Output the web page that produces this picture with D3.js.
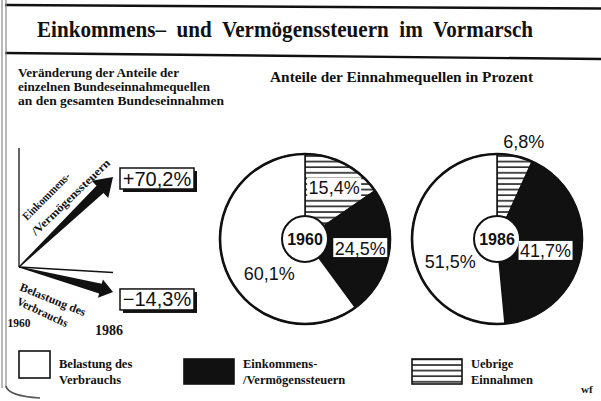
<!DOCTYPE html>
<html>
<head>
<meta charset="utf-8">
<script src="https://cdn.jsdelivr.net/npm/d3@7"></script>
<style>
  body { margin: 0; background: #fff; }
  svg { display: block; }
  .serif { font-family: "Liberation Serif", "DejaVu Serif", serif; font-weight: bold; fill: #111; }
  .num { font-family: "Liberation Sans", Arial, sans-serif; fill: #111; }
</style>
</head>
<body>
<svg id="chart" width="601" height="401"></svg>
<script>
// Revenue sources of the federal budget
const categories = ["Belastung des Verbrauchs", "Einkommens-/Vermögenssteuern", "Uebrige Einnahmen"];
const legendLines = [["Belastung des", "Verbrauchs"], ["Einkommens-", "/Vermögenssteuern"], ["Uebrige", "Einnahmen"]];
const years = [1960, 1986];
const shares1960 = [60.1, 24.5, 15.4];
const shares1986 = [51.5, 41.7, 6.8];
// change of share 1960 -> 1986 (Belastung des Verbrauchs, Einkommens-/Vermögenssteuern)
const changeCats = [0, 1];
const changeValues = [-14.3, 70.2];

const svg = d3.select("#chart");
const ink = "#111";
const fmt = v => Math.abs(v).toFixed(1).replace(".", ",") + "%";
const fmtSigned = v => (v > 0 ? "+" : "\u2212") + fmt(v);

// hatch pattern for "Uebrige Einnahmen"
const defs = svg.append("defs");
const pat = defs.append("pattern").attr("id", "hatch")
  .attr("patternUnits", "userSpaceOnUse").attr("width", 8).attr("height", 5.6);
pat.append("rect").attr("width", 8).attr("height", 5.6).attr("fill", "#fff");
pat.append("line").attr("x1", 0).attr("x2", 8).attr("y1", 1).attr("y2", 1)
  .attr("stroke", ink).attr("stroke-width", 1.5);

const fills = ["#fff", ink, "url(#hatch)"];

// ---- frame ----
svg.append("line").attr("x1", 5).attr("y1", 5).attr("x2", 601).attr("y2", 8.5)
  .attr("stroke", ink).attr("stroke-width", 2.6);
svg.append("line").attr("x1", 5).attr("y1", 53).attr("x2", 601).attr("y2", 59)
  .attr("stroke", ink).attr("stroke-width", 2.4);
[2, 6].forEach(x => svg.append("line").attr("x1", x).attr("x2", x).attr("y1", 0).attr("y2", 388)
  .attr("stroke", "#8a8a8a").attr("stroke-width", 1.2));
svg.append("path").attr("d", "M6,386 Q8,396 40,398")
  .attr("fill", "none").attr("stroke", "#555").attr("stroke-width", 1.6);

// ---- title ----
svg.append("text").attr("class", "serif")
  .attr("x", 37).attr("y", 37)
  .attr("font-size", 22.5)
  .style("white-space", "pre")
  .attr("textLength", 496).attr("lengthAdjust", "spacingAndGlyphs")
  .text("Einkommens\u2013  und  Vermögenssteuern  im  Vormarsch");

// ---- left subtitle ----
const subLines = ["Veränderung der Anteile der", "einzelnen Bundeseinnahmequellen", "an den gesamten Bundeseinnahmen"];
const subLen = [161, 192, 206];
subLines.forEach((t, i) => svg.append("text").attr("class", "serif")
  .attr("x", 18).attr("y", 77 + i * 14).attr("font-size", 12.5)
  .attr("textLength", subLen[i]).attr("lengthAdjust", "spacingAndGlyphs").text(t));

// ---- right header ----
svg.append("text").attr("class", "serif")
  .attr("x", 270).attr("y", 82).attr("font-size", 14)
  .attr("textLength", 263).attr("lengthAdjust", "spacingAndGlyphs")
  .text("Anteile der Einnahmequellen in Prozent");

// ---- change arrows ----
const xA = d3.scaleLinear().domain(years).range([19, 113]);
const yA = d3.scaleLinear().domain([0, 70.2]).range([272.5, 177]);
const originY = 267;

svg.append("line").attr("x1", xA(years[0])).attr("y1", 148).attr("x2", xA(years[0])).attr("y2", originY)
  .attr("stroke", ink).attr("stroke-width", 1.3);
svg.append("line").attr("x1", xA(years[0])).attr("y1", originY).attr("x2", xA(years[1])).attr("y2", yA(0))
  .attr("stroke", ink).attr("stroke-width", 1.3);

function arrowPath(x0, y0, x1, y1, w1, w2, L) {
  const dx = x1 - x0, dy = y1 - y0, len = Math.hypot(dx, dy);
  const ux = dx / len, uy = dy / len, nx = -uy, ny = ux;
  const bx = x1 - ux * L, by = y1 - uy * L;
  const p = (x, y, s) => [x + nx * s, y + ny * s];
  const pts = [p(x0, y0, 0.6), p(bx, by, w1 / 2), p(bx, by, w2 / 2), [x1, y1],
               p(bx, by, -w2 / 2), p(bx, by, -w1 / 2), p(x0, y0, -0.6)];
  return "M" + pts.map(q => q.join(",")).join("L") + "Z";
}
const arrowStyle = { up: [10, 24, 18], down: [10, 19, 13] };
changeValues.forEach((v, i) => {
  const s = v > 0 ? arrowStyle.up : arrowStyle.down;
  svg.append("path")
    .attr("d", arrowPath(xA(years[0]), originY, xA(years[1]), yA(v), s[0], s[1], s[2]))
    .attr("fill", ink);
  // value box with shadow
  const bx = xA(years[1]) + 7, by = yA(v) + (v > 0 ? -9 : -3), bw = 74, bh = 21;
  svg.append("rect").attr("x", bx + 3).attr("y", by + 3).attr("width", bw).attr("height", bh).attr("fill", ink);
  svg.append("rect").attr("x", bx).attr("y", by).attr("width", bw).attr("height", bh)
    .attr("fill", "#fff").attr("stroke", ink).attr("stroke-width", 1.5);
  svg.append("text").attr("class", "num").attr("x", bx + bw / 2).attr("y", by + bh / 2 + 7)
    .attr("text-anchor", "middle").attr("font-size", 20).text(fmtSigned(v));
});

// arrow captions
const rotText = (t, x, y, a, fs, len) => svg.append("text").attr("class", "serif")
  .attr("transform", `translate(${x},${y}) rotate(${a})`).attr("font-size", fs)
  .attr("textLength", len).attr("lengthAdjust", "spacingAndGlyphs").text(t);
rotText(legendLines[1][0], 27, 221, -45, 11.5, 62);
rotText(legendLines[1][1], 36, 236, -44, 11.5, 104);
rotText(legendLines[0][0], 19, 290, 22, 11.5, 70);
rotText(legendLines[0][1], 16, 304, 25, 11.5, 55);

svg.append("text").attr("class", "serif").attr("x", xA(years[0])).attr("y", 327)
  .attr("text-anchor", "middle").attr("font-size", 11.5).text(years[0]);
svg.append("text").attr("class", "serif").attr("x", xA(years[1]) - 4).attr("y", 335)
  .attr("text-anchor", "middle").attr("font-size", 14).text(years[1]);

// ---- pies ----
const R = 85, r0 = 23;
const pieOrder = [2, 1, 0]; // clockwise from 12 o'clock
const pie = d3.pie().sort(null).value(d => d.v);
const arc = d3.arc().innerRadius(0).outerRadius(R);
const pies = [
  { year: years[0], shares: shares1960, cx: 305, cy: 239,
    place: { 2: [29.6, 59], 1: [99.3, 56], 0: [225.8, 50] } },
  { year: years[1], shares: shares1986, cx: 497, cy: 239,
    place: { 2: [15.4, 101], 1: [103.8, 50], 0: [243.9, 52] } }
];
pies.forEach(P => {
  const g = svg.append("g").attr("transform", `translate(${P.cx},${P.cy})`);
  const data = pie(pieOrder.map(k => ({ k, v: P.shares[k] })));
  g.selectAll("path.slice").data(data).join("path").attr("class", "slice")
    .attr("d", arc).attr("fill", d => fills[d.data.k])
    .attr("stroke", ink).attr("stroke-width", 1.5);
  g.append("circle").attr("r", R).attr("fill", "none").attr("stroke", ink).attr("stroke-width", 2.6);
  g.append("circle").attr("r", r0).attr("fill", "#fff").attr("stroke", ink).attr("stroke-width", 2);
  g.append("text").attr("class", "num").attr("text-anchor", "middle").attr("y", 6)
    .attr("font-size", 16).attr("font-weight", "bold").text(P.year);
  data.forEach(d => {
    const [deg, rr] = P.place[d.data.k];
    const a = deg * Math.PI / 180;
    const x = rr * Math.sin(a), y = -rr * Math.cos(a);
    const t = fmt(d.data.v);
    const w = t.length * 9.6 + 6;
    if (d.data.k !== 0) g.append("rect").attr("x", x - w / 2).attr("y", y - 10).attr("width", w).attr("height", 19).attr("fill", "#fff");
    g.append("text").attr("class", "num").attr("x", x).attr("y", y + 6.5)
      .attr("text-anchor", "middle").attr("font-size", 18).text(t);
  });
});

// ---- legend ----
const legBox = [[19, 351, 31, 27], [184, 359, 50, 25], [412, 359, 50, 25]];
categories.forEach((c, i) => {
  const [x, y, w, h] = legBox[i];
  svg.append("rect").attr("x", x).attr("y", y).attr("width", w).attr("height", h)
    .attr("fill", fills[i]).attr("stroke", ink).attr("stroke-width", 1.6);
  legendLines[i].forEach((t, j) => svg.append("text").attr("class", "serif")
    .attr("x", x + w + 9).attr("y", 368 + j * 16).attr("font-size", 12.5).text(t));
});
svg.append("text").attr("class", "serif").attr("x", 581).attr("y", 393).attr("font-size", 11).text("wf");
</script>
</body>
</html>
